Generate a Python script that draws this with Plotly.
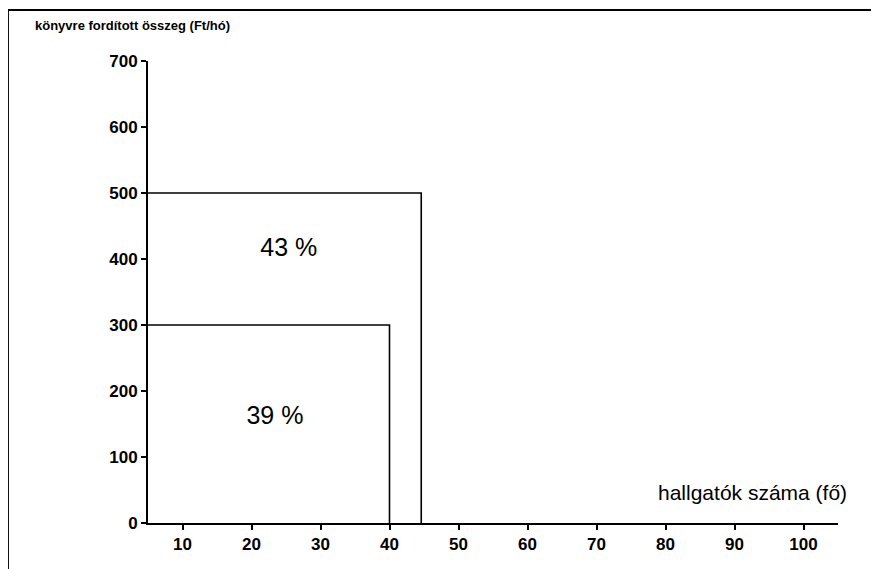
import plotly.graph_objects as go

# Data
groups = ["43 %", "39 %"]
students = [44.6, 40]          # hallgatók száma (fő) – right edge of each block
amounts = [500, 300]           # könyvre fordított összeg (Ft/hó)
label_x = [25.4, 23.4]
label_y = [414, 159]

x_ticks = [10, 20, 30, 40, 50, 60, 70, 80, 90, 100]
y_ticks = [0, 100, 200, 300, 400, 500, 600, 700]
x_start = 5

fig = go.Figure()

for n, amt in zip(students, amounts):
    fig.add_trace(go.Scatter(
        x=[x_start, n, n], y=[amt, amt, 0],
        mode="lines", line=dict(color="black", width=1.6),
        hoverinfo="skip", showlegend=False,
    ))

fig.add_trace(go.Scatter(
    x=label_x, y=label_y, mode="text", text=groups,
    textfont=dict(family="Liberation Sans, Arial", size=25, color="black"),
    showlegend=False, hoverinfo="skip",
))

fig.update_xaxes(
    range=[x_start, 105], tickvals=x_ticks, ticktext=[str(v) for v in x_ticks],
    showline=True, linecolor="black", linewidth=2, showgrid=False, zeroline=False,
    ticks="outside", ticklen=5, tickwidth=1.5, tickcolor="black",
    tickfont=dict(family="Liberation Sans, Arial", size=17, color="black", weight="bold"),
)
fig.update_yaxes(
    range=[0, 700], tickvals=y_ticks, ticktext=[str(v) for v in y_ticks],
    showline=True, linecolor="black", linewidth=2, showgrid=False, zeroline=False,
    ticks="outside", ticklen=5, tickwidth=1.5, tickcolor="black",
    tickfont=dict(family="Liberation Sans, Arial", size=17, color="black", weight="bold"),
)

fig.update_layout(
    width=879, height=569,
    margin=dict(l=140, r=49, t=53, b=54),
    plot_bgcolor="white", paper_bgcolor="white",
    shapes=[
        dict(type="line", xref="paper", yref="paper", x0=-0.203, x1=1.08, y0=1.1104, y1=1.1104,
             line=dict(color="black", width=2)),
        dict(type="line", xref="paper", yref="paper", x0=-0.203, x1=-0.203, y0=1.1104, y1=-0.14,
             line=dict(color="black", width=2)),
    ],
    annotations=[
        dict(text="könyvre fordított összeg (Ft/hó)", xref="paper", yref="paper",
             x=-0.166, y=1.077, xanchor="left", yanchor="middle", showarrow=False,
             font=dict(family="Liberation Sans, Arial", size=13, color="black", weight="bold")),
        dict(text="hallgatók száma (fő)", xref="paper", yref="paper",
             x=1.016, y=0.066, xanchor="right", yanchor="middle", showarrow=False,
             font=dict(family="Liberation Sans, Arial", size=21, color="black")),
    ],
)

fig.write_html("out.html")
